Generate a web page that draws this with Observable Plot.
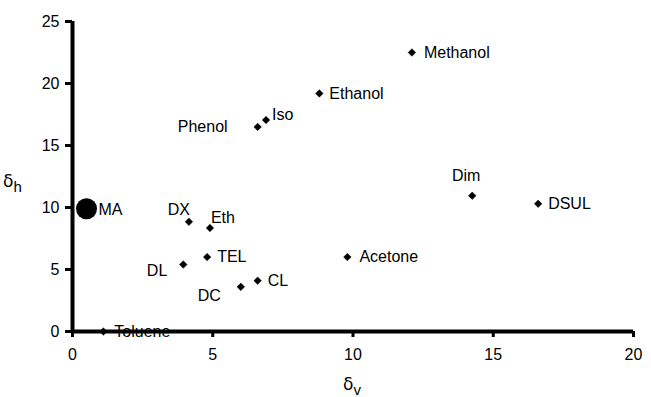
<!DOCTYPE html>
<html><head><meta charset="utf-8">
<script src="https://cdn.jsdelivr.net/npm/d3@7"></script>
<script src="https://cdn.jsdelivr.net/npm/@observablehq/plot@0.6"></script>
<style>body{margin:0;background:#fff}</style>
</head><body><div id="chart"></div>
<script>
const solvents = ["Methanol","Ethanol","Iso","Phenol","Dim","DSUL","MA","DX","Eth","TEL","DL","Acetone","CL","DC","Toluene"];
const deltaV   = [12.1, 8.8, 6.9, 6.6, 14.25, 16.6, 0.5, 4.15, 4.9, 4.8, 3.95, 9.8, 6.6, 6.0, 1.1];
const deltaH   = [22.5, 19.2, 17.05, 16.5, 10.95, 10.3, 9.9, 8.85, 8.35, 6.0, 5.4, 6.0, 4.1, 3.6, 0];
const xTicks = [0, 5, 10, 15, 20];
const yTicks = [0, 5, 10, 15, 20, 25];
const highlighted = "MA";

const data = solvents.map((name, i) => ({name, v: deltaV[i], h: deltaH[i]}));

// label placement (pixel offsets from marker)
const place = {
  Methanol: {a: "start", dx: 12, dy: 0},
  Ethanol:  {a: "start", dx: 10, dy: 0},
  Iso:      {a: "start", dx: 6,  dy: -5},
  Phenol:   {a: "end",   dx: -30, dy: 0},
  Dim:      {a: "middle", dx: -6, dy: -20},
  DSUL:     {a: "start", dx: 10, dy: 0},
  MA:       {a: "start", dx: 12, dy: 1},
  DX:       {a: "end",   dx: 1,  dy: -12},
  Eth:      {a: "start", dx: 1,  dy: -10},
  TEL:      {a: "start", dx: 10, dy: 0},
  DL:       {a: "end",   dx: -16, dy: 6},
  Acetone:  {a: "start", dx: 12, dy: 0},
  CL:       {a: "start", dx: 10, dy: 0},
  DC:       {a: "end",   dx: -20, dy: 9},
  Toluene:  {a: "start", dx: 11, dy: 0}
};

const labelMarks = data.map(d => Plot.text([d], {
  x: "v", y: "h", text: "name",
  textAnchor: place[d.name].a, dx: place[d.name].dx, dy: place[d.name].dy,
  fill: "black", fontSize: 16
}));

const chart = Plot.plot({
  width: 651, height: 397,
  marginLeft: 72, marginRight: 18, marginTop: 21, marginBottom: 66,
  style: {fontFamily: "'Liberation Sans', Arial, sans-serif", background: "white"},
  x: {domain: [0, 20]},
  y: {domain: [0, 25]},
  marks: [
    Plot.axisX({ticks: xTicks, tickSize: 6, tickPadding: 11, fontSize: 16, stroke: "black", strokeWidth: 3, label: null, tickFormat: d => d, fill: "black"}),
    Plot.axisY({ticks: yTicks, tickSize: 7, tickPadding: 6, fontSize: 16, stroke: "black", strokeWidth: 3, label: null, tickFormat: d => d, fill: "black"}),
    Plot.ruleY([0], {stroke: "black", strokeWidth: 4}),
    Plot.ruleX([0], {stroke: "black", strokeWidth: 4}),
    Plot.dot(data.filter(d => d.name !== highlighted), {x: "v", y: "h", symbol: d3.symbolDiamond2, r: 3.4, fill: "black", stroke: "black", strokeWidth: 0.5}),
    Plot.dot(data.filter(d => d.name === highlighted), {x: "v", y: "h", r: 10.5, fill: "black"}),
    ...labelMarks
  ]
});

const svg = d3.select(chart);
function addLabel(x, y, sub, anchor) {
  const t = svg.append("text").attr("x", x).attr("y", y).attr("text-anchor", anchor)
    .attr("fill", "black");
  t.append("tspan").attr("font-family", "'DejaVu Sans', sans-serif").attr("font-size", 17).text("δ");
  t.append("tspan").attr("font-family", "'Liberation Sans', Arial, sans-serif").attr("font-size", 15).attr("dy", 5).text(sub);
}
addLabel(352, 390, "v", "middle");
addLabel(3, 187, "h", "start");

document.getElementById("chart").appendChild(chart);
</script>
</body></html>
